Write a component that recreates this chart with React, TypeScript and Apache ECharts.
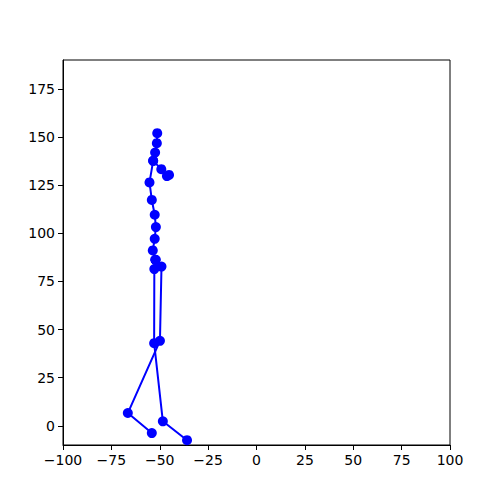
import { useEffect, useRef } from 'react';
import * as echarts from 'echarts';

// joint chains, [x, y]
const spine = [
  [-51.3, 152.0],
  [-51.5, 146.8],
  [-52.4, 141.9],
  [-53.4, 137.6],
  [-55.3, 126.4],
  [-54.1, 117.3],
  [-52.6, 109.6],
  [-52.0, 103.2],
  [-52.6, 97.1],
  [-53.6, 91.1],
  [-52.2, 86.2],
];
const arm = [
  [-53.4, 137.6],
  [-49.2, 133.3],
  [-46.3, 129.7],
  [-45.2, 130.3],
];
const leftLeg = [
  [-52.2, 86.2],
  [-52.8, 81.4],
  [-52.9, 42.9],
  [-48.4, 2.3],
  [-35.9, -7.5],
];
const rightLeg = [
  [-52.2, 86.2],
  [-49.1, 82.7],
  [-49.9, 44.1],
  [-66.5, 6.6],
  [-54.1, -3.8],
];

const xTicks = [-100, -75, -50, -25, 0, 25, 50, 75, 100];
const yTicks = [0, 25, 50, 75, 100, 125, 150, 175];

const font = "'DejaVu Sans', sans-serif";

// matplotlib writes negatives with a real minus sign
const fmt = (v: number) => String(v).replace('-', '\u2212');

function chain(data: number[][]) {
  return {
    type: 'line',
    data,
    symbol: 'circle',
    symbolSize: 10,
    color: '#0000ff',
    lineStyle: { color: '#0000ff', width: 2 },
    itemStyle: { color: '#0000ff' },
  };
}

export default function App() {
  const ref = useRef<HTMLDivElement>(null);

  useEffect(() => {
    if (!ref.current) return;
    document.body.style.margin = '0';
    const chart = echarts.init(ref.current, null, { renderer: 'svg' });
    chart.setOption({
      animation: false,
      backgroundColor: '#fff',
      textStyle: { fontFamily: font },
      grid: {
        left: 63,
        top: 60,
        width: 387,
        height: 385,
        show: true,
        borderColor: '#000',
        borderWidth: 1,
        backgroundColor: 'transparent',
      },
      xAxis: {
        type: 'value',
        min: -100,
        max: 100,
        interval: 25,
        axisLine: { show: true, onZero: false, lineStyle: { color: '#000', width: 1 } },
        axisTick: { show: true, length: 5, lineStyle: { color: '#000' }, customValues: xTicks },
        axisLabel: { color: '#000', fontSize: 14, fontFamily: font, margin: 8, customValues: xTicks, formatter: fmt },
        splitLine: { show: false },
      },
      yAxis: {
        type: 'value',
        min: -10,
        max: 190,
        axisLine: { show: true, onZero: false, lineStyle: { color: '#000', width: 1 } },
        axisTick: { show: true, length: 5, lineStyle: { color: '#000' }, customValues: yTicks },
        axisLabel: { color: '#000', fontSize: 14, fontFamily: font, margin: 8, customValues: yTicks, formatter: fmt },
        splitLine: { show: false },
      },
      series: [chain(spine), chain(arm), chain(leftLeg), chain(rightLeg)],
    });
    return () => chart.dispose();
  }, []);

  return <div ref={ref} style={{ width: 500, height: 500 }} />;
}
